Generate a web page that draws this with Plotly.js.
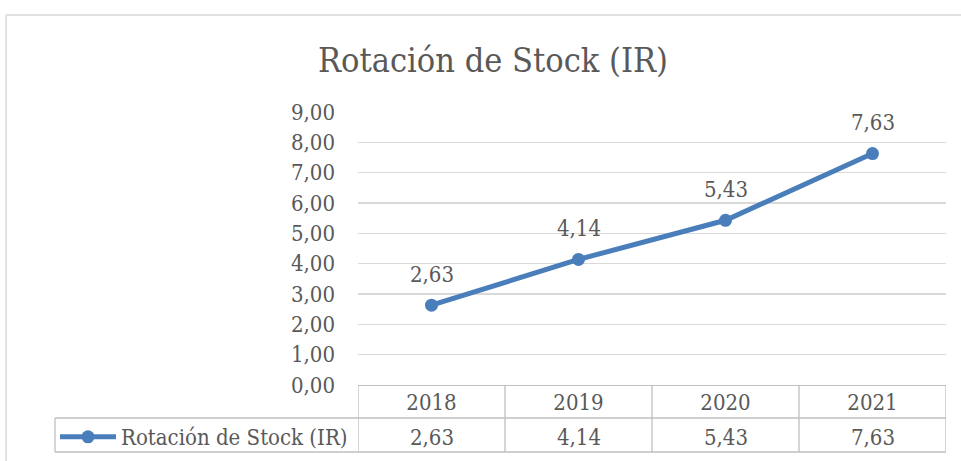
<!DOCTYPE html>
<html><head><meta charset="utf-8">
<script src="https://cdn.plot.ly/plotly-3.0.1.min.js"></script>
<style>body{margin:0;background:#fff}#c{width:961px;height:461px}</style>
</head><body><div id="c"></div>
<script>
const categories = ['2018','2019','2020','2021'];
const seriesName = 'Rotación de Stock (IR)';
const values = [2.63, 4.14, 5.43, 7.63];
const yTicks = [0,1,2,3,4,5,6,7,8,9];
const titleText = 'Rotación de Stock (IR)';

const FONT = '"DejaVu Serif Condensed", "DejaVu Serif", serif';
const GRAY = '#595959';
const LINE = '#bfbfbf';
const BLUE = '#4a7ebb';
const FS = 22;
const fmt = v => v.toFixed(2).replace('.', ',');

const idx = categories.map((c,i)=>i);
const trace = {
  x: idx, y: values, name: seriesName, type: 'scatter', mode: 'lines+markers',
  line: {color: BLUE, width: 5}, marker: {color: BLUE, size: 13},
  showlegend: true, hoverinfo: 'skip'
};

const rowTop = -0.1209, rowBot = -0.2454, legLeft = -0.5153;
const shapes = [];
const gl = {type:'line', line:{color: LINE, width: 1.3}};
shapes.push(Object.assign({}, gl, {xref:'paper', yref:'paper', x0: legLeft, x1: 1, y0: rowTop, y1: rowTop}));
shapes.push(Object.assign({}, gl, {xref:'paper', yref:'paper', x0: legLeft, x1: 1, y0: rowBot, y1: rowBot}));
shapes.push(Object.assign({}, gl, {xref:'paper', yref:'paper', x0: legLeft, x1: legLeft, y0: rowTop, y1: rowBot}));
for (let i = 0; i <= categories.length; i++) {
  shapes.push(Object.assign({}, gl, {xref:'x', yref:'paper', x0: i-0.5, x1: i-0.5, y0: 0, y1: rowBot}));
}
shapes.push({type:'line', xref:'paper', yref:'paper', x0:-0.5986, x1:1.03, y0:1.355, y1:1.355, line:{color:'#d9d9d9', width:1.5}});
shapes.push({type:'line', xref:'paper', yref:'paper', x0:-0.5986, x1:-0.5986, y0:1.355, y1:-0.3, line:{color:'#d9d9d9', width:1.5}});

const annotations = [];
values.forEach((v,i)=>{
  annotations.push({x: i, y: v, xref:'x', yref:'y', text: fmt(v), showarrow:false,
    yshift: 31, font:{family: FONT, size: FS, color: GRAY}});
  annotations.push({x: i, y: -0.1905, xref:'x', yref:'paper', yanchor: 'middle', xanchor: 'center',
    text: fmt(v), showarrow:false, font:{family: FONT, size: FS, color: GRAY}});
});

const layout = {
  width: 961, height: 461,
  margin: {l: 358, r: 15, t: 112, b: 76, autoexpand: false},
  paper_bgcolor: '#fff', plot_bgcolor: '#fff',
  separators: ',.',
  title: {text: titleText, x: 0.513, xanchor: 'center', y: 0.87, yanchor: 'middle',
    font: {family: FONT, size: 34, color: GRAY}},
  xaxis: {range: [-0.5, categories.length - 0.5], tickvals: idx, ticktext: categories,
    showgrid: false, zeroline: false, showline: true, linecolor: LINE, linewidth: 1.3,
    ticks: '', ticklabelstandoff: -3, automargin: false,
    tickfont: {family: FONT, size: FS, color: GRAY}, fixedrange: true},
  yaxis: {range: [0, 9], tickvals: yTicks, tickformat: '.2f', showgrid: true,
    gridcolor: '#d9d9d9', gridwidth: 1.5, zeroline: false, showline: false,
    ticks: '', ticklabelstandoff: 22, automargin: false,
    tickfont: {family: FONT, size: FS, color: GRAY}, fixedrange: true},
  showlegend: true,
  legend: {x: legLeft, xanchor: 'left', y: -0.1905, yanchor: 'middle',
    bgcolor: 'rgba(0,0,0,0)', borderwidth: 0, itemwidth: 56,
    font: {family: FONT, size: FS, color: GRAY}},
  shapes: shapes, annotations: annotations
};
Plotly.newPlot('c', [trace], layout, {displayModeBar: false, staticPlot: true});
</script></body></html>
